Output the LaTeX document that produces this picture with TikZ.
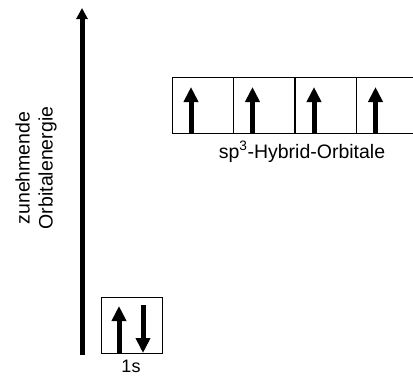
\documentclass[tikz,border=0pt]{standalone}
\usepackage{fontspec}
\setmainfont{Liberation Sans}
\usetikzlibrary{arrows.meta,calc}
\begin{document}
\begin{tikzpicture}[x=1pt,y=-1pt,
  orb/.style={draw=black,line width=0.8pt,minimum width=61pt,minimum height=56pt,inner sep=0pt,outer sep=0pt},
  spin/.style={line width=5pt,-{Triangle[width=14pt,length=15pt]}},
  lbl/.style={font=\fontsize{19.5}{23}\selectfont,inner sep=0pt}]
\useasboundingbox (0,0) rectangle (413,376);
\clip (0,0) rectangle (413,376);
% energy axis
\coordinate (e0) at (82,355);
\coordinate (e1) at (82,8);
\draw[line width=5pt,-{Triangle[width=11pt,length=11pt]}] (e0) -- (e1);
\node[lbl,rotate=90,align=center] (elab) at (36,168) {zunehmende\\Orbitalenergie};
% sp3 boxes
\foreach \i/\x in {1/202.5,2/264,3/325.5,4/387}{
  \node[orb] (h\i) at (\x,105) {};
  \draw[spin] ($(h\i.south west)+(19,0)$) -- ($(h\i.south west)+(19,-46)$);
}
\node[lbl] (hl) at (302,152) {sp\textsuperscript{3}-Hybrid-Orbitale};
% 1s box
\node[orb] (s) at (131.5,325) {};
\draw[spin] ($(s.south west)+(18,0)$) -- ($(s.south west)+(18,-47)$);
\draw[spin] ($(s.north west)+(42,8)$) -- ($(s.north west)+(42,56)$);
\node[lbl,font=\fontsize{18}{20}\selectfont] (sl) at (131,366) {1s};
\end{tikzpicture}
\end{document}
